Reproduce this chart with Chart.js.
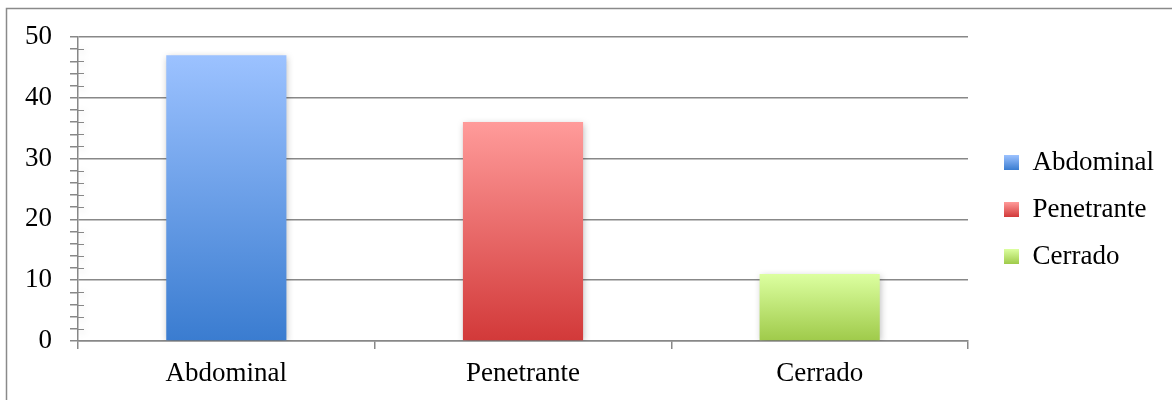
<!DOCTYPE html>
<html>
<head>
<meta charset="utf-8">
<script src="https://cdn.jsdelivr.net/npm/chart.js@4.4.1/dist/chart.umd.min.js"></script>
<style>
  html, body { margin: 0; padding: 0; background: #ffffff; }
  #wrap { position: relative; width: 1172px; height: 400px; }
  canvas { display: block; }
</style>
</head>
<body>
<div id="wrap"><canvas id="c" width="1172" height="400"></canvas></div>
<script>
// Data
const categories = ['Abdominal', 'Penetrante', 'Cerrado'];
const values = [47, 36, 11];
const yTickLabels = [0, 10, 20, 30, 40, 50];

// Gradient palette per category (top -> bottom)
const palette = {
  top:    ['#9cc2ff', '#ff9b9a', '#dcffa0'],
  bottom: ['#3a7cd0', '#d23939', '#9fca4a']
};

const FONT = 'Liberation Serif';
const FONT_SIZE = 27;
const AXIS_COLOR = '#888888';
const TEXT_COLOR = '#000000';

function barGradient(chart, i, value) {
  const y = chart.scales.y;
  const g = chart.ctx.createLinearGradient(0, y.getPixelForValue(value), 0, y.getPixelForValue(0));
  g.addColorStop(0, palette.top[i]);
  g.addColorStop(1, palette.bottom[i]);
  return g;
}

// Frame lines along the top and left edges
const framePlugin = {
  id: 'frame',
  afterDraw(chart) {
    const ctx = chart.ctx;
    ctx.save();
    ctx.strokeStyle = '#8a8a8a';
    ctx.lineWidth = 1.5;
    ctx.beginPath();
    ctx.moveTo(6.5, chart.height);
    ctx.lineTo(6.5, 8.5);
    ctx.lineTo(chart.width, 8.5);
    ctx.stroke();
    ctx.restore();
  }
};

// Minor ticks cross the value axis: draw their inner half
const minorTickPlugin = {
  id: 'minorTicks',
  afterDatasetsDraw(chart) {
    const y = chart.scales.y;
    const x0 = chart.chartArea.left;
    const ctx = chart.ctx;
    ctx.save();
    ctx.strokeStyle = AXIS_COLOR;
    ctx.lineWidth = 1;
    ctx.beginPath();
    y.ticks.forEach(t => {
      if (t.value % 10 !== 0) {
        const py = Math.round(y.getPixelForValue(t.value)) + 0.5;
        ctx.moveTo(x0, py);
        ctx.lineTo(x0 + 6, py);
      }
    });
    ctx.stroke();
    ctx.restore();
  }
};

// Soft drop shadow beneath the bars
const shadowPlugin = {
  id: 'barShadow',
  beforeDatasetsDraw(chart) {
    const ctx = chart.ctx;
    ctx.save();
    ctx.shadowColor = 'rgba(0,0,0,0.28)';
    ctx.shadowBlur = 7;
    ctx.shadowOffsetX = 1;
    ctx.shadowOffsetY = 2;
  },
  afterDatasetsDraw(chart) {
    chart.ctx.restore();
  }
};

// Legend: fixed width, placement and gradient swatches
const LEGEND_WIDTH = 194;
const legendPlugin = {
  id: 'legendTweak',
  beforeLayout(chart) {
    const lg = chart.legend;
    if (lg && !lg._fixedFit) {
      const fit = lg.fit;
      lg.fit = function () { fit.call(this); this.width = LEGEND_WIDTH; };
      lg._fixedFit = true;
    }
  },
  afterLayout(chart) {
    const lg = chart.legend;
    if (!lg) return;
    const pad = chart.options.plugins.legend.labels.padding;
    lg.left = 1004 - pad;
    lg.right = lg.left + lg.width;
    lg.top = 17;
    lg.bottom = 402;
  },
  afterUpdate(chart) {
    const lg = chart.legend;
    if (!lg || !lg.legendHitBoxes) return;
    lg.legendItems.forEach((item, i) => {
      const hb = lg.legendHitBoxes[i];
      const top = hb.top + Math.max((FONT_SIZE - 15) / 2, 0);
      const g = chart.ctx.createLinearGradient(0, top, 0, top + 15);
      g.addColorStop(0, palette.top[i]);
      g.addColorStop(1, palette.bottom[i]);
      item.fillStyle = g;
    });
  }
};

new Chart(document.getElementById('c'), {
  type: 'bar',
  data: {
    labels: categories,
    datasets: [{
      data: values,
      backgroundColor(ctx) {
        const chart = ctx.chart;
        if (!chart.chartArea || ctx.type !== 'data') return palette.top[ctx.dataIndex || 0];
        return barGradient(chart, ctx.dataIndex, ctx.raw);
      },
      borderWidth: 0,
      categoryPercentage: 1,
      barPercentage: 0.405
    }]
  },
  options: {
    responsive: false,
    animation: false,
    layout: { padding: { top: 37, left: 0, right: 10, bottom: 0 } },
    plugins: {
      tooltip: { enabled: false },
      legend: {
        position: 'right',
        align: 'center',
        labels: {
          boxWidth: 15,
          boxHeight: 15,
          padding: 20,
          color: TEXT_COLOR,
          font: { family: FONT, size: FONT_SIZE },
          generateLabels() {
            return categories.map((c, i) => ({
              text: c,
              fillStyle: palette.top[i],
              strokeStyle: 'rgba(0,0,0,0)',
              lineWidth: 0,
              hidden: false,
              index: i,
              fontColor: TEXT_COLOR
            }));
          }
        }
      }
    },
    scales: {
      x: {
        grid: {
          drawOnChartArea: false,
          drawTicks: true,
          tickLength: 8,
          lineWidth: 1.5,
          color: AXIS_COLOR,
          tickColor: AXIS_COLOR
        },
        border: { display: true, color: AXIS_COLOR, width: 1.5 },
        ticks: {
          color: TEXT_COLOR,
          padding: 9,
          font: { family: FONT, size: FONT_SIZE }
        },
        afterFit(scale) { scale.height = 59; }
      },
      y: {
        min: 0,
        max: 50,
        ticks: {
          stepSize: 2,
          autoSkip: false,
          padding: 18,
          color: TEXT_COLOR,
          font: { family: FONT, size: FONT_SIZE },
          callback(v) { return yTickLabels.includes(v) ? String(v) : ''; }
        },
        grid: {
          tickLength: 8,
          lineWidth: 1.5,
          color(ctx) { return ctx.tick && yTickLabels.includes(ctx.tick.value) ? AXIS_COLOR : 'rgba(0,0,0,0)'; },
          tickColor: AXIS_COLOR
        },
        border: { display: true, color: AXIS_COLOR, width: 1.5 },
        afterFit(scale) { scale.width = 78; }
      }
    }
  },
  plugins: [framePlugin, minorTickPlugin, shadowPlugin, legendPlugin]
});
</script>
</body>
</html>
